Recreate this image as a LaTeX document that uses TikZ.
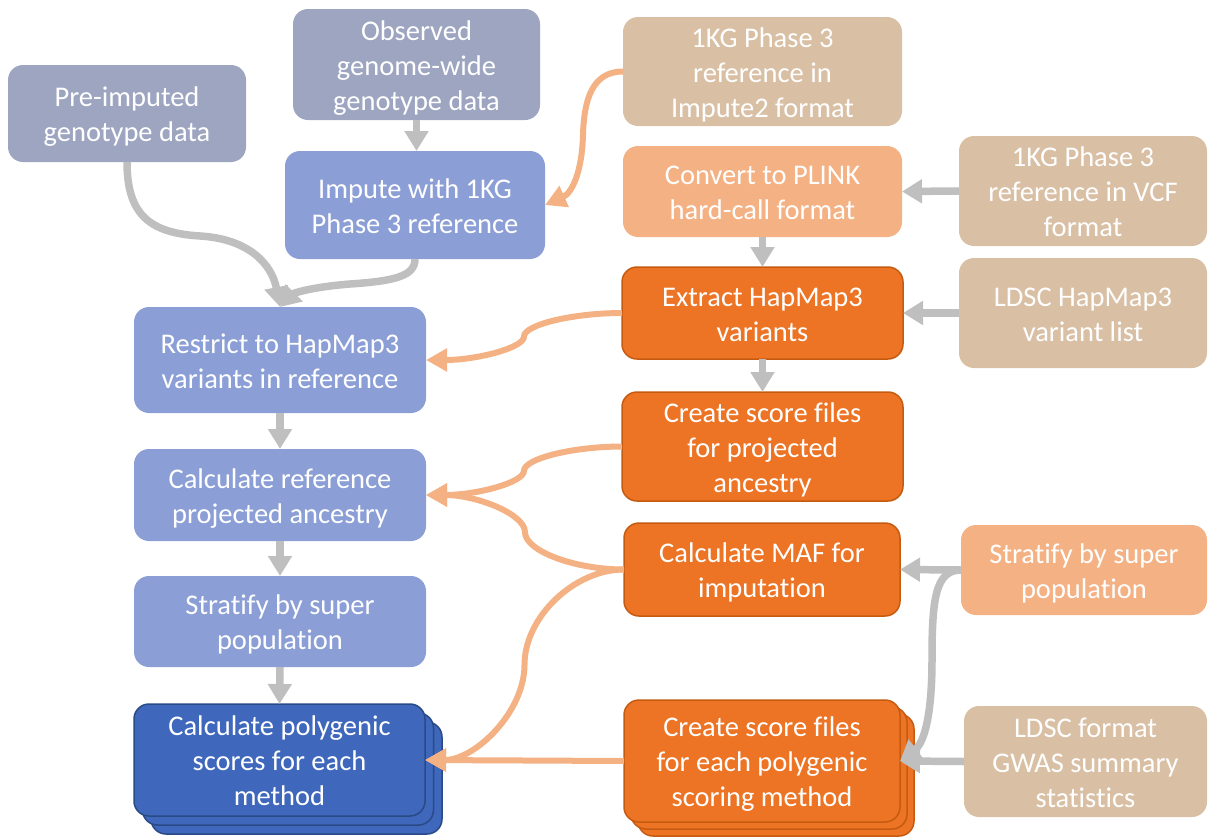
\documentclass[tikz,border=0pt]{standalone}
\usepackage{fontspec}
\setmainfont{Carlito}[Ligatures=NoCommon]
\usetikzlibrary{arrows.meta,calc}
\definecolor{gblue}{HTML}{9DA5C1}
\definecolor{lblue}{HTML}{8B9FD6}
\definecolor{dblue}{HTML}{3F68BD}
\definecolor{dblueb}{HTML}{2A4A85}
\definecolor{tanc}{HTML}{D9C0A5}
\definecolor{lorange}{HTML}{F4B183}
\definecolor{orng}{HTML}{EC7424}
\definecolor{orngb}{HTML}{C55A11}
\definecolor{garrow}{HTML}{BFBFBF}
\newcommand{\fl}{\rule{0pt}{28.5pt}}
\tikzset{
 box/.style={rounded corners=15pt, text=white, align=center, outer sep=0pt, inner sep=0pt,
   font=\fontsize{28.5}{35}\selectfont,
   execute at end node={\rule[-7pt]{0pt}{7pt}}},
 gbox/.style={box, fill=gblue},
 lbbox/.style={box, fill=lblue},
 tanbox/.style={box, fill=tanc},
 lobox/.style={box, fill=lorange},
 obox/.style={box, fill=orng, draw=orngb, line width=1.5pt},
 dbbox/.style={box, fill=dblue, draw=dblueb, line width=1.5pt},
 olayer/.style={rounded corners=15pt, fill=orng, draw=orngb, line width=1.5pt},
 dblayer/.style={rounded corners=15pt, fill=dblue, draw=dblueb, line width=1.5pt},
 garr/.style={draw=garrow, line width=7.5pt, -{Triangle[width=23pt,length=20pt]}},
 oarr/.style={draw=lorange, line width=6pt, -{Triangle[width=22pt,length=21pt]}},
}
\newcommand{\hconn}[3]{%
 \draw[#1] let \p1=(#2), \p2=(#3) in (\p1) .. controls ({(3*\x1+\x2)/4},\y1) and ({(\x1+\x2)/2},{(3*\y1+\y2)/4}) .. ({(\x1+\x2)/2},{(\y1+\y2)/2}) .. controls ({(\x1+\x2)/2},{(\y1+3*\y2)/4}) and ({(\x1+3*\x2)/4},\y2) .. (\p2);}
\begin{document}
\begin{tikzpicture}[x=1pt,y=-1pt]
\useasboundingbox (0,0) rectangle (1208,836);
% stacked layers
\draw[dblayer] (151,722) rectangle (442,834);
\draw[dblayer] (142.5,713) rectangle (433.5,825);
\draw[olayer] (638,714) rectangle (914,836);
\draw[olayer] (631,707) rectangle (907,829);
% nodes
\node[gbox, minimum width=238pt, minimum height=97pt] (pre) at (127,113.5) {\fl Pre-imputed\\genotype data};
\node[gbox, minimum width=247pt, minimum height=111pt] (obs) at (416.5,64.5) {\fl Observed\\genome-wide\\genotype data};
\node[lbbox, minimum width=260pt, minimum height=108pt] (imp) at (415,205) {\fl Impute with 1KG\\Phase 3 reference};
\node[lbbox, minimum width=292pt, minimum height=106pt] (restr) at (280,360) {\fl Restrict to HapMap3\\variants in reference};
\node[lbbox, minimum width=292pt, minimum height=92pt] (cref) at (280,495) {\fl Calculate reference\\projected ancestry};
\node[lbbox, minimum width=292pt, minimum height=91pt] (strat) at (280,621.5) {\fl Stratify by super\\population};
\node[dbbox, minimum width=291pt, minimum height=112pt] (poly) at (279.5,760) {\fl Calculate polygenic\\scores for each\\method};
\node[tanbox, minimum width=279pt, minimum height=109pt] (k1) at (762.5,71.5) {\fl 1KG Phase 3\\reference in\\Impute2 format};
\node[lobox, minimum width=279pt, minimum height=91pt] (conv) at (762.5,191.5) {\fl Convert to PLINK\\hard-call format};
\node[tanbox, minimum width=248pt, minimum height=110pt] (vcf) at (1083,191) {\fl 1KG Phase 3\\reference in VCF\\format};
\node[obox, minimum width=281pt, minimum height=92pt] (extr) at (762.5,313) {\fl Extract HapMap3\\variants};
\node[tanbox, minimum width=248pt, minimum height=110pt] (ldsc) at (1083,313) {\fl LDSC HapMap3\\variant list};
\node[obox, minimum width=281pt, minimum height=109pt] (csp) at (762.5,446.5) {\fl Create score files\\for projected\\ancestry};
\node[obox, minimum width=276pt, minimum height=93pt] (maf) at (762,569.5) {\fl Calculate MAF for\\imputation};
\node[lobox, minimum width=246pt, minimum height=90pt] (strat2) at (1084,570) {\fl Stratify by super\\population};
\node[obox, minimum width=276pt, minimum height=122pt] (cse) at (762,761) {\fl Create score files\\for each polygenic\\scoring method};
\node[tanbox, minimum width=243pt, minimum height=111pt] (gwas) at (1085.5,761.5) {\fl LDSC format\\GWAS summary\\statistics};
% gray straight arrows
\draw[garr] (obs.south) -- (obs.south |- imp.north);
\draw[garr] (conv.south) -- (extr.north);
\draw[garr] (extr.south) -- (csp.north);
\draw[garr] (restr.south) -- (cref.north);
\draw[garr] (cref.south) -- (strat.north);
\draw[garr] (strat.south) -- (poly.north);
\draw[garr] (vcf.west) -- (conv.east);
\draw[garr] (ldsc.west) -- (extr.east);
\draw[garr] (strat2.west) -- (maf.east);
\draw[garr] (gwas.west) -- (cse.east);
% gray curves
\draw[garr] (pre.south) .. controls (127,215) and (150,233) .. (200,236) .. controls (250,239) and (272,265) .. (restr.north);
\draw[garr] (imp.south) .. controls (415,276) and (395,281) .. (350,284) .. controls (312,287) and (294,293) .. (restr.north);
\draw[garr] (strat2.west) .. controls (935,570) and (932,600) .. (932,660) .. controls (932,712) and (925,742) .. (cse.east);
% orange connectors
\draw[oarr] (k1.west) .. controls (592,71.5) and (584,100) .. (583,135) .. controls (582,172) and (572,193) .. (imp.east);
\hconn{oarr}{extr.west}{restr.east}
\hconn{oarr}{csp.west}{cref.east}
\hconn{oarr}{maf.west}{cref.east}
\hconn{oarr}{maf.west}{poly.east}
\draw[oarr] (cse.west) -- (poly.east);
\end{tikzpicture}
\end{document}
